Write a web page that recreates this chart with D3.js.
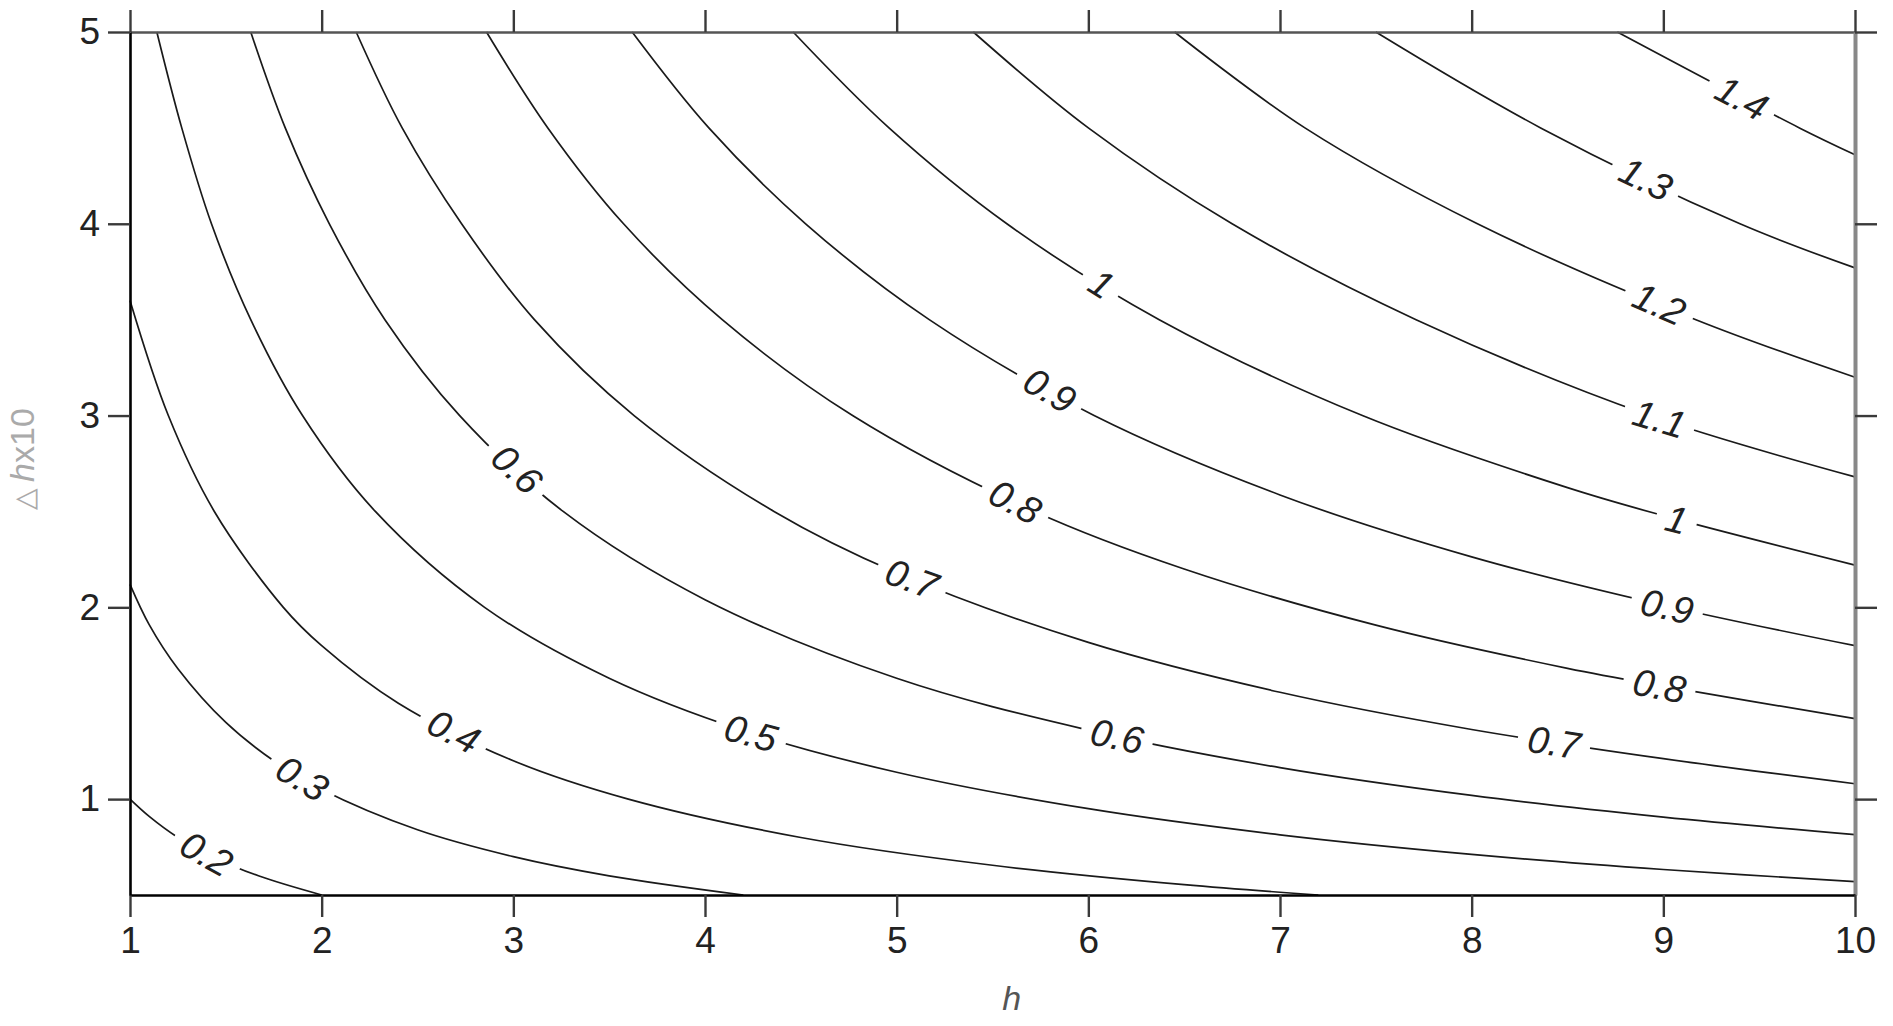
<!DOCTYPE html>
<html>
<head>
<meta charset="utf-8">
<script src="https://cdn.jsdelivr.net/npm/d3@7"></script>
<style>
  body { margin: 0; background: #fff; }
  text { font-family: "Liberation Sans", Arial, sans-serif; }
</style>
</head>
<body>
<svg id="chart" width="1893" height="1026"></svg>
<script>
// tick values
const xTicks = [1, 2, 3, 4, 5, 6, 7, 8, 9, 10];
const yTicks = [1, 2, 3, 4, 5];

// contour lines, [h, dh*10]
const level02 = [[1, 1.0], [1.1, 0.91], [1.25, 0.8], [1.43, 0.7], [1.67, 0.6], [2.0, 0.5]];
const level03 = [[1, 2.12], [1.1, 1.91], [1.25, 1.68], [1.5, 1.4], [1.75, 1.2], [2, 1.05], [2.5, 0.84], [3, 0.7], [3.5, 0.6], [4.2, 0.5]];
const level04 = [[1, 3.6], [1.2, 3.0], [1.44, 2.5], [1.8, 2.0], [2.0, 1.8], [2.4, 1.5], [3, 1.2], [3.6, 1.0], [4.5, 0.8], [5.5, 0.655], [6.5, 0.554], [7.2, 0.5]];
const level05 = [[1.14, 5], [1.27, 4.5], [1.425, 4.0], [1.63, 3.5], [1.9, 3.0], [2.28, 2.5], [2.85, 2.0], [3.5, 1.63], [4.2, 1.357], [5, 1.14], [6, 0.95], [7, 0.814], [8, 0.712], [9, 0.633], [10, 0.57]];
const level06 = [[1.63, 5], [1.81, 4.5], [2.04, 4.0], [2.33, 3.5], [2.72, 3.0], [3.26, 2.5], [4, 2.04], [5, 1.63], [6, 1.36], [7, 1.164], [8, 1.019], [9, 0.906], [10, 0.815]];
const level07 = [[2.18, 5], [2.42, 4.5], [2.73, 4.0], [3.11, 3.5], [3.63, 3.0], [4.36, 2.5], [5, 2.18], [6, 1.817], [7, 1.557], [8, 1.363], [9, 1.211], [10, 1.08]];
const level08 = [[2.86, 5], [3.18, 4.5], [3.575, 4.0], [4.09, 3.5], [4.77, 3.0], [5.72, 2.5], [6.5, 2.2], [7.5, 1.907], [8.5, 1.682], [9, 1.589], [10, 1.42]];
const level09 = [[3.62, 5], [4.02, 4.5], [4.525, 4.0], [5.17, 3.5], [6.03, 3.0], [7, 2.586], [8, 2.263], [9, 2.011], [10, 1.8]];
const level10 = [[4.46, 5], [4.96, 4.5], [5.575, 4.0], [6.37, 3.5], [7.43, 3.0], [8.5, 2.624], [9, 2.478], [10, 2.22]];
const level11 = [[5.4, 5], [6, 4.5], [6.75, 4.0], [7.71, 3.5], [8.93, 3.0], [10, 2.68]];
const level12 = [[6.45, 5], [7.13, 4.5], [8.03, 4.0], [9.17, 3.5], [10, 3.2]];
const level13 = [[7.5, 5], [8.36, 4.5], [9.4, 4.0], [10, 3.77]];
const level14 = [[8.76, 5], [9.71, 4.5], [10, 4.36]];

const contourLines = [level02, level03, level04, level05, level06, level07, level08,
                      level09, level10, level11, level12, level13, level14];
const levelNames = ["0.2", "0.3", "0.4", "0.5", "0.6", "0.7", "0.8", "0.9", "1", "1.1", "1.2", "1.3", "1.4"];

// where the inline labels sit: [level name, h]
const labelSpots = [
  ["0.2", 1.40], ["0.3", 1.90], ["0.4", 2.69], ["0.5", 4.24],
  ["0.6", 3.02], ["0.6", 6.15], ["0.7", 5.08], ["0.7", 8.43],
  ["0.8", 5.62], ["0.8", 8.98], ["0.9", 5.80], ["0.9", 9.02],
  ["1", 6.07], ["1", 9.07], ["1.1", 8.98], ["1.2", 8.98],
  ["1.3", 8.91], ["1.4", 9.41]
];

const svg = d3.select("#chart");
const W = +svg.attr("width"), H = +svg.attr("height");

const x = d3.scaleLinear().domain([1, 10]).range([130, 1855]);
const y = d3.scaleLinear().domain([0.5, 5]).range([895, 32]);

// find label position + angle on a line
function spotOn(pts, h) {
  for (let i = 0; i < pts.length - 1; i++) {
    const a = pts[i], b = pts[i + 1];
    if (h >= a[0] && h <= b[0]) {
      const t = (h - a[0]) / (b[0] - a[0]);
      const px = x(h), py = y(a[1] + t * (b[1] - a[1]));
      const ang = Math.atan2(y(b[1]) - y(a[1]), x(b[0]) - x(a[0])) * 180 / Math.PI;
      return { px, py, ang };
    }
  }
  return null;
}

const defs = svg.append("defs");
const mask = defs.append("mask").attr("id", "gaps").attr("maskUnits", "userSpaceOnUse")
  .attr("x", 0).attr("y", 0).attr("width", W).attr("height", H);
mask.append("rect").attr("width", W).attr("height", H).attr("fill", "#fff");

const lineGen = d3.line()
  .x(d => x(d[0]))
  .y(d => y(d[1]))
  .curve(d3.curveCatmullRom.alpha(0.5));

svg.append("g")
  .attr("mask", "url(#gaps)")
  .selectAll("path")
  .data(contourLines)
  .join("path")
  .attr("d", lineGen)
  .attr("fill", "none")
  .attr("stroke", "#1a1a1a")
  .attr("stroke-width", 1.7);

const labelG = svg.append("g");
labelSpots.forEach(([name, h]) => {
  const pts = contourLines[levelNames.indexOf(name)];
  const s = spotOn(pts, h);
  if (!s) return;
  const t = labelG.append("text")
    .attr("transform", `translate(${s.px},${s.py}) rotate(${s.ang})`)
    .attr("text-anchor", "middle")
    .attr("dy", "0.36em")
    .attr("font-size", 38)
    .attr("font-style", "italic")
    .attr("fill", "#222")
    .text(name);
  const len = t.node().getComputedTextLength();
  mask.append("rect")
    .attr("transform", `translate(${s.px},${s.py}) rotate(${s.ang})`)
    .attr("x", -len / 2 - 10).attr("y", -16)
    .attr("width", len + 20).attr("height", 32)
    .attr("fill", "#000");
});

// axes
const styleAxis = (g, domainColor, domainWidth) => {
  g.select(".domain").attr("stroke", domainColor).attr("stroke-width", domainWidth);
  g.selectAll(".tick line").attr("stroke", "#3a3a3a").attr("stroke-width", 2.4);
  g.selectAll(".tick text").attr("font-size", 37).attr("fill", "#222");
};

svg.append("g")
  .attr("transform", `translate(0,${y(5)})`)
  .call(d3.axisTop(x).tickValues(xTicks).tickSize(22).tickSizeOuter(0).tickFormat(""))
  .call(g => styleAxis(g, "#555", 2.6));

svg.append("g")
  .attr("transform", `translate(${x(10)},0)`)
  .call(d3.axisRight(y).tickValues(yTicks).tickSize(22).tickSizeOuter(0).tickFormat(""))
  .call(g => styleAxis(g, "#888", 4));

svg.append("g")
  .attr("transform", `translate(0,${y(0.5)})`)
  .call(d3.axisBottom(x).tickValues(xTicks).tickSize(22).tickSizeOuter(0).tickPadding(10).tickFormat(d3.format("d")))
  .call(g => styleAxis(g, "#000", 2.6));

svg.append("g")
  .attr("transform", `translate(${x(1)},0)`)
  .call(d3.axisLeft(y).tickValues(yTicks).tickSize(22).tickSizeOuter(0).tickPadding(8).tickFormat(d3.format("d")))
  .call(g => styleAxis(g, "#000", 2.6));

// axis titles
svg.append("text")
  .attr("x", x(5.6)).attr("y", 1010)
  .attr("text-anchor", "middle")
  .attr("font-size", 34)
  .attr("font-style", "italic")
  .attr("fill", "#555")
  .text("h");

const yt = svg.append("text")
  .attr("transform", `translate(34,459) rotate(-90)`)
  .attr("text-anchor", "middle")
  .attr("font-size", 34)
  .attr("fill", "#aaa");
yt.append("tspan").attr("font-size", 28).text("△");
yt.append("tspan").attr("dx", 6).attr("font-style", "italic").text("h");
yt.append("tspan").text("x10");
</script>
</body>
</html>
